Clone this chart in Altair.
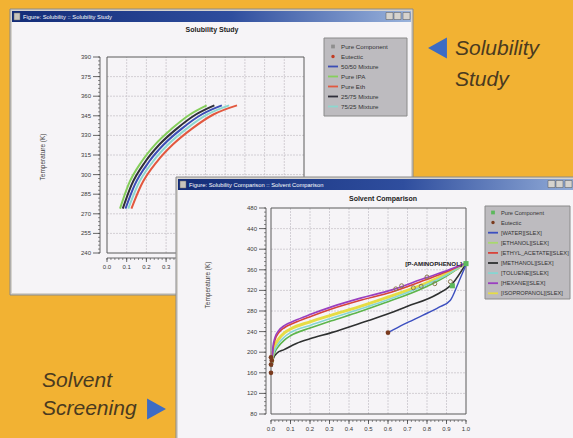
import altair as alt
import pandas as pd

# ---------------------------------------------------------------
# Solubility Study: saturation temperature (K) against mole fraction
# ---------------------------------------------------------------
study_temps = [274, 292, 310, 323, 335, 346, 353]
study_pure_ipa = [0.066, 0.108, 0.176, 0.244, 0.328, 0.421, 0.506]
study_mix_25_75 = [0.080, 0.124, 0.195, 0.266, 0.353, 0.451, 0.545]
study_mix_50_50 = [0.094, 0.140, 0.214, 0.288, 0.378, 0.480, 0.583]
study_mix_75_25 = [0.108, 0.156, 0.233, 0.310, 0.403, 0.509, 0.620]
study_pure_eth = [0.124, 0.174, 0.254, 0.334, 0.430, 0.540, 0.660]

study_names = ["Pure IPA", "25/75 Mixture", "50/50 Mixture", "75/25 Mixture", "Pure Eth"]
study_colors = ["#86CF5C", "#2F2F3A", "#3B4DB5", "#8CD8CF", "#E2583F"]
study_curves = [study_pure_ipa, study_mix_25_75, study_mix_50_50, study_mix_75_25, study_pure_eth]

study_legend_names = ["Pure Component", "Eutectic", "50/50 Mixture", "Pure IPA",
                      "Pure Eth", "25/75 Mixture", "75/25 Mixture"]
study_legend_kinds = ["square", "dot", "line", "line", "line", "line", "line"]
study_legend_colors = ["#8E8E8E", "#C23B22", "#3B4DB5", "#86CF5C", "#E2583F", "#2F2F3A", "#8CD8CF"]

study_x_ticks = [0.0, 0.1, 0.2, 0.3, 0.4, 0.5, 0.6, 0.7, 0.8, 0.9, 1.0]
study_x_labels = ["0.0", "0.1", "0.2", "0.3"]          # the rest sit under the second window
study_y_ticks = [240, 255, 270, 285, 300, 315, 330, 345, 360, 375, 390]

# ---------------------------------------------------------------
# Solvent Comparison: solubility curves of one solute in several solvents
# ---------------------------------------------------------------
water_x = [0.60, 0.68, 0.78, 0.86, 0.92, 0.96, 0.98, 1.00]
water_t = [238, 254, 272, 287, 301, 334, 352, 370]
methanol_x = [0.005, 0.012, 0.03, 0.067, 0.13, 0.20, 0.31, 0.48, 0.59, 0.70, 0.85, 0.93, 1.00]
methanol_t = [172, 188, 198, 205, 217, 226, 238, 259, 273, 289, 312, 333, 372]
ethanol_x = [0.005, 0.01, 0.02, 0.04, 0.07, 0.10, 0.20, 0.31, 0.45, 0.57, 0.79, 0.90, 1.00]
ethanol_t = [176, 188, 200, 212, 224, 232, 247, 261, 278, 294, 326, 348, 373]
toluene_x = [0.005, 0.01, 0.02, 0.04, 0.07, 0.10, 0.20, 0.31, 0.45, 0.57, 0.79, 0.90, 1.00]
toluene_t = [178, 192, 205, 218, 230, 238, 252, 266, 283, 298, 330, 350, 373]
isopropanol_x = [0.005, 0.01, 0.02, 0.04, 0.07, 0.10, 0.20, 0.31, 0.45, 0.57, 0.79, 0.90, 1.00]
isopropanol_t = [180, 198, 212, 226, 238, 245, 259, 272, 288, 303, 333, 352, 373]
ethyl_acetate_x = [0.005, 0.01, 0.02, 0.04, 0.07, 0.12, 0.20, 0.31, 0.45, 0.62, 0.79, 0.90, 1.00]
ethyl_acetate_t = [183, 205, 223, 238, 248, 257, 269, 284, 300, 317, 340, 356, 373]
hexane_x = [0.005, 0.01, 0.02, 0.04, 0.07, 0.12, 0.20, 0.31, 0.45, 0.62, 0.79, 0.90, 1.00]
hexane_t = [185, 210, 228, 242, 252, 261, 273, 288, 304, 321, 344, 358, 373]

solv_names = ["[METHANOL][SLEX]", "[ETHANOL][SLEX]", "[ISOPROPANOL][SLEX]", "[TOLUENE][SLEX]",
              "[ETHYL_ACETATE][SLEX]", "[HEXANE][SLEX]", "[WATER][SLEX]"]
solv_colors = ["#2E3030", "#5DB54A", "#E6DC45", "#86D6D2", "#D8433A", "#9A3FC0", "#3C4FC0"]
solv_widths = [1.6, 1.6, 3.0, 1.6, 1.6, 1.6, 1.4]
solv_curves = [(methanol_x, methanol_t), (ethanol_x, ethanol_t), (isopropanol_x, isopropanol_t),
               (toluene_x, toluene_t), (ethyl_acetate_x, ethyl_acetate_t),
               (hexane_x, hexane_t), (water_x, water_t)]

eutectic_x = [0.0, 0.0, 0.004, 0.0, 0.60]
eutectic_t = [160, 176, 184, 190, 238]
pure_x = [1.0, 0.93]
pure_t = [372, 329]
exp_x = [0.64, 0.67, 0.80, 0.73, 0.77, 0.84, 0.92]
exp_t = [323, 329, 346, 325, 328, 333, 337]

solv_legend_names = ["Pure Component", "Eutectic", "[WATER][SLEX]", "[ETHANOL][SLEX]",
                     "[ETHYL_ACETATE][SLEX]", "[METHANOL][SLEX]", "[TOLUENE][SLEX]",
                     "[HEXANE][SLEX]", "[ISOPROPANOL][SLEX]"]
solv_legend_kinds = ["square", "dot", "line", "line", "line", "line", "line", "line", "line"]
solv_legend_colors = ["#5CB85C", "#7A3B1E", "#3C4FC0", "#A9D86E", "#D8433A", "#2E3030",
                      "#86D6D2", "#9A3FC0", "#E6DC45"]

solv_x_ticks = [0.0, 0.1, 0.2, 0.3, 0.4, 0.5, 0.6, 0.7, 0.8, 0.9, 1.0]
solv_x_labels = ["0.0", "0.1", "0.2", "0.3", "0.4", "0.5", "0.6", "0.7", "0.8", "0.9", "1.0"]
solv_y_ticks = [80, 120, 160, 200, 240, 280, 320, 360, 400, 440, 480]

# ---------------------------------------------------------------
# page styling
# ---------------------------------------------------------------
W, H = 573, 438
ORANGE = "#F2B233"
FONT = "Liberation Sans"
CLIENT = "#F6F4F7"
GRID = "#C9C5CC"
INK = "#3A3A3A"
NOTE_INK = "#4A3A20"

one = pd.DataFrame({"k": [0]})


def box(x0, y0, x1, y1, **kw):
    return alt.Chart(one).mark_rect(**kw).encode(
        x=alt.value(x0), x2=alt.value(x1), y=alt.value(y0), y2=alt.value(y1))


def note(x, y, text, **kw):
    kw.setdefault("font", FONT)
    return alt.Chart(one).mark_text(text=text, **kw).encode(x=alt.value(x), y=alt.value(y))


title_fill = alt.Gradient(
    gradient="linear", x1=0, x2=1, y1=0, y2=0,
    stops=[alt.GradientStop(color="#132C78", offset=0),
           alt.GradientStop(color="#2F4E9E", offset=0.55),
           alt.GradientStop(color="#9AB3DC", offset=1)])


def window(x0, y0, x1, y1, caption):
    bx = x1 - 27 if x1 <= W else W - 25
    return [
        box(x0, y0, x1, y1, fill="#D6D3CE", stroke="#8A8A8A", strokeWidth=1),
        box(x0 + 2, y0 + 13, x1 - 2, y1 - 2, fill=CLIENT),
        box(x0 + 2, y0 + 2, x1 - 2, y0 + 13, fill=title_fill),
        box(x0 + 4, y0 + 4, x0 + 10, y0 + 11, fill="#C8C4BC", stroke="#6A6A6A", strokeWidth=0.5),
        note(x0 + 13, y0 + 7.8, caption, align="left", baseline="middle",
             fontSize=5.8, color="white"),
        box(bx, y0 + 3.5, bx + 7, y0 + 10.5, fill="#D6D3CE", stroke="#555", strokeWidth=0.5),
        box(bx + 8, y0 + 3.5, bx + 15, y0 + 10.5, fill="#D6D3CE", stroke="#555", strokeWidth=0.5),
        box(bx + 17, y0 + 3.5, bx + 24, y0 + 10.5, fill="#D6D3CE", stroke="#555", strokeWidth=0.5),
    ]


def panel(xs, ys, xdom, ydom, xticks, xlabels, yticks, minor_dx, minor_dy,
          x_axis_px, y_axis_px):
    """Grid, frame and axes of one plot, all positioned through the panel scales."""
    layers = []
    vg = pd.DataFrame({"g": xticks[1:-1], "lo": ydom[0], "hi": ydom[1]})
    hg = pd.DataFrame({"g": yticks[1:-1], "lo": xdom[0], "hi": xdom[1]})
    layers.append(alt.Chart(vg).mark_rule(color=GRID, strokeWidth=0.8, strokeDash=[2, 1]).encode(
        x=alt.X("g:Q", scale=xs, axis=None), y=alt.Y("lo:Q", scale=ys, axis=None), y2="hi:Q"))
    layers.append(alt.Chart(hg).mark_rule(color=GRID, strokeWidth=0.8, strokeDash=[2, 1]).encode(
        y=alt.Y("g:Q", scale=ys, axis=None), x=alt.X("lo:Q", scale=xs, axis=None), x2="hi:Q"))
    fr = pd.DataFrame({"a": [xdom[0]], "b": [xdom[1]], "c": [ydom[0]], "d": [ydom[1]]})
    layers.append(alt.Chart(fr).mark_rect(fillOpacity=0, stroke="#5A5A5A", strokeWidth=1).encode(
        x=alt.X("a:Q", scale=xs, axis=None), x2="b:Q",
        y=alt.Y("c:Q", scale=ys, axis=None), y2="d:Q"))

    # x axis below the frame
    layers.append(alt.Chart(fr).mark_rule(color="#444", strokeWidth=0.8).encode(
        x=alt.X("a:Q", scale=xs, axis=None), x2="b:Q", y=alt.value(x_axis_px)))
    xmin = pd.DataFrame({"t": [xdom[0] + i * minor_dx
                               for i in range(int(round((xdom[1] - xdom[0]) / minor_dx)) + 1)]})
    layers.append(alt.Chart(xmin).mark_rule(color="#444", strokeWidth=0.6).encode(
        x=alt.X("t:Q", scale=xs, axis=None), y=alt.value(x_axis_px), y2=alt.value(x_axis_px + 2)))
    xt = pd.DataFrame({"t": xticks})
    layers.append(alt.Chart(xt).mark_rule(color="#444", strokeWidth=0.8).encode(
        x=alt.X("t:Q", scale=xs, axis=None), y=alt.value(x_axis_px), y2=alt.value(x_axis_px + 4)))
    xl = pd.DataFrame({"t": xticks[:len(xlabels)], "lab": xlabels})
    layers.append(alt.Chart(xl).mark_text(font=FONT, fontSize=6, color=INK, baseline="top").encode(
        x=alt.X("t:Q", scale=xs, axis=None), y=alt.value(x_axis_px + 6), text="lab:N"))

    # y axis left of the frame
    layers.append(alt.Chart(fr).mark_rule(color="#444", strokeWidth=0.8).encode(
        y=alt.Y("c:Q", scale=ys, axis=None), y2="d:Q", x=alt.value(y_axis_px)))
    ymin = pd.DataFrame({"t": [ydom[0] + i * minor_dy
                               for i in range(int(round((ydom[1] - ydom[0]) / minor_dy)) + 1)]})
    layers.append(alt.Chart(ymin).mark_rule(color="#444", strokeWidth=0.6).encode(
        y=alt.Y("t:Q", scale=ys, axis=None), x=alt.value(y_axis_px - 2), x2=alt.value(y_axis_px)))
    yt = pd.DataFrame({"t": yticks})
    layers.append(alt.Chart(yt).mark_rule(color="#444", strokeWidth=0.8).encode(
        y=alt.Y("t:Q", scale=ys, axis=None), x=alt.value(y_axis_px - 7), x2=alt.value(y_axis_px)))
    layers.append(alt.Chart(yt).mark_text(font=FONT, fontSize=6, color=INK, align="right",
                                          baseline="middle").encode(
        y=alt.Y("t:Q", scale=ys, axis=None), x=alt.value(y_axis_px - 9), text="t:Q"))
    return layers


def legend(names, kinds, colors, box_xy, first_y, step, sym_x, text_x, font_size):
    n = len(names)
    df = pd.DataFrame({"i": list(range(n)), "name": names, "kind": kinds, "col": colors})
    iy = alt.Scale(domain=[0, n - 1], range=[first_y, first_y + step * (n - 1)], nice=False, zero=False)
    cs = alt.Scale(domain=colors, range=colors)
    x0, y0, x1, y1 = box_xy
    layers = [box(x0, y0, x1, y1, fill="#BDBBBF", stroke="#8A8A8A", strokeWidth=1)]
    yenc = alt.Y("i:Q", scale=iy, axis=None)
    cenc = alt.Color("col:N", scale=cs, legend=None)
    layers.append(alt.Chart(df).transform_filter(alt.datum.kind == "line").mark_rule(strokeWidth=1.8).encode(
        x=alt.value(sym_x - 5), x2=alt.value(sym_x + 5), y=yenc, color=cenc))
    layers.append(alt.Chart(df).transform_filter(alt.datum.kind == "square").mark_square(size=14, opacity=1).encode(
        x=alt.value(sym_x), y=yenc, color=cenc))
    layers.append(alt.Chart(df).transform_filter(alt.datum.kind == "dot").mark_circle(size=12, opacity=1).encode(
        x=alt.value(sym_x), y=yenc, color=cenc))
    layers.append(alt.Chart(df).mark_text(font=FONT, fontSize=font_size, color="#333", align="left",
                                          baseline="middle").encode(
        x=alt.value(text_x), y=yenc, text="name:N"))
    return layers


layers = []

# ------------------------- Solubility Study window -------------------------
layers += window(10, 9, 413, 295, "Figure: Solubility :: Solubility Study")
X1 = alt.Scale(domain=[0, 1], range=[107, 304], nice=False, zero=False)
Y1 = alt.Scale(domain=[240, 390], range=[253, 57], nice=False, zero=False)
layers += panel(X1, Y1, [0, 1], [240, 390], study_x_ticks, study_x_labels, study_y_ticks,
                0.02, 3, 258, 100)

study_rows = []
for name, xs_ in zip(study_names, study_curves):
    for j, (xv, tv) in enumerate(zip(xs_, study_temps)):
        study_rows.append({"series": name, "x": xv, "T": tv, "o": j})
study_df = pd.DataFrame(study_rows)
layers.append(alt.Chart(study_df).mark_line(strokeWidth=2, interpolate="monotone").encode(
    x=alt.X("x:Q", scale=X1, axis=None),
    y=alt.Y("T:Q", scale=Y1, axis=None),
    color=alt.Color("series:N", scale=alt.Scale(domain=study_names, range=study_colors), legend=None),
    order="o:Q", detail="series:N"))

layers.append(note(212, 30, "Solubility Study", fontSize=7, fontWeight="bold", color="#222"))
layers.append(note(43, 157, "Temperature (K)", fontSize=6.5, angle=270, color=INK))
layers += legend(study_legend_names, study_legend_kinds, study_legend_colors,
                 (324, 38, 407, 116), 46.5, 10, 333, 341, 6.2)

# ------------------------- Solvent Comparison window -------------------------
layers += window(176, 177, 590, 450, "Figure: Solubility Comparison :: Solvent Comparison")
X2 = alt.Scale(domain=[0, 1], range=[271, 466], nice=False, zero=False)
Y2 = alt.Scale(domain=[80, 480], range=[414, 208], nice=False, zero=False)
layers += panel(X2, Y2, [0, 1], [80, 480], solv_x_ticks, solv_x_labels, solv_y_ticks,
                0.02, 8, 420, 266)

solv_rows = []
for name, w, (xs_, ts_) in zip(solv_names, solv_widths, solv_curves):
    for j, (xv, tv) in enumerate(zip(xs_, ts_)):
        solv_rows.append({"series": name, "x": xv, "T": tv, "o": j, "w": w})
solv_df = pd.DataFrame(solv_rows)
layers.append(alt.Chart(solv_df).mark_line(interpolate="monotone").encode(
    x=alt.X("x:Q", scale=X2, axis=None),
    y=alt.Y("T:Q", scale=Y2, axis=None),
    color=alt.Color("series:N", scale=alt.Scale(domain=solv_names, range=solv_colors), legend=None),
    strokeWidth=alt.StrokeWidth("w:Q", scale=None),
    order="o:Q", detail="series:N"))

exp_df = pd.DataFrame({"x": exp_x, "T": exp_t})
layers.append(alt.Chart(exp_df).mark_point(size=16, color="#8A7A50", strokeWidth=1, opacity=1).encode(
    x=alt.X("x:Q", scale=X2, axis=None), y=alt.Y("T:Q", scale=Y2, axis=None)))
eut_df = pd.DataFrame({"x": eutectic_x, "T": eutectic_t})
layers.append(alt.Chart(eut_df).mark_circle(size=22, color="#7A3B1E", opacity=1).encode(
    x=alt.X("x:Q", scale=X2, axis=None), y=alt.Y("T:Q", scale=Y2, axis=None)))
pure_df = pd.DataFrame({"x": pure_x, "T": pure_t})
layers.append(alt.Chart(pure_df).mark_square(size=26, color="#5CB85C", opacity=1).encode(
    x=alt.X("x:Q", scale=X2, axis=None), y=alt.Y("T:Q", scale=Y2, axis=None)))

layers.append(note(462, 264, "[P-AMINOPHENOL]", fontSize=6.2, fontWeight="bold", align="right",
                   baseline="middle", color="#222"))
layers.append(note(383, 199, "Solvent Comparison", fontSize=7, fontWeight="bold", color="#222"))
layers.append(note(208, 285, "Temperature (K)", fontSize=6.5, angle=270, color=INK))
layers += legend(solv_legend_names, solv_legend_kinds, solv_legend_colors,
                 (485, 206, 570, 299), 212.5, 10.1, 493, 501, 5.7)

# ------------------------- captions on the page -------------------------
left_tri = "M0.85,-1L0.85,1L-0.95,0Z"
right_tri = "M-0.85,-1L-0.85,1L0.95,0Z"
layers.append(alt.Chart(one).mark_point(shape=left_tri, filled=True, size=440, color="#3D6CC4",
                                        opacity=1).encode(x=alt.value(438), y=alt.value(48)))
layers.append(note(455, 49, "Solubility", fontSize=21, fontStyle="italic", align="left",
                   baseline="middle", color=NOTE_INK))
layers.append(note(455, 80, "Study", fontSize=21, fontStyle="italic", align="left",
                   baseline="middle", color=NOTE_INK))
layers.append(note(42, 381, "Solvent", fontSize=21, fontStyle="italic", align="left",
                   baseline="middle", color=NOTE_INK))
layers.append(note(42, 409, "Screening", fontSize=21, fontStyle="italic", align="left",
                   baseline="middle", color=NOTE_INK))
layers.append(alt.Chart(one).mark_point(shape=right_tri, filled=True, size=440, color="#3D6CC4",
                                        opacity=1).encode(x=alt.value(156), y=alt.value(409)))

chart = (
    alt.layer(*layers)
    .resolve_scale(x="independent", y="independent", color="independent")
    .properties(width=W, height=H, autosize=alt.AutoSizeParams(type="none"), padding=0,
                background=ORANGE)
    .configure_view(strokeWidth=0)
)

chart.save("out.html", embed_options={"renderer": "svg", "actions": False})
